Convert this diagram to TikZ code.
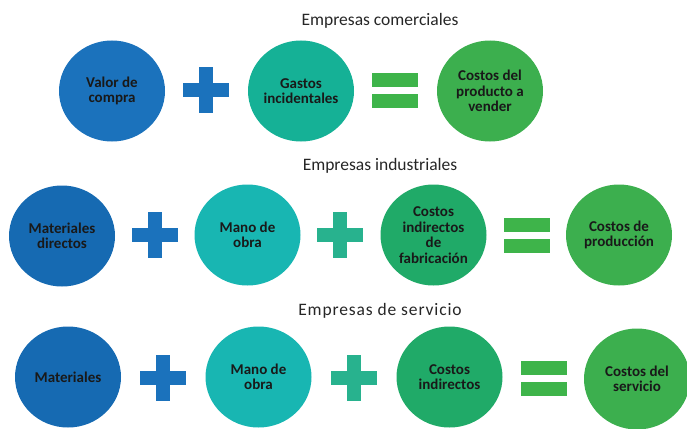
\documentclass[tikz,border=0pt]{standalone}
\usepackage{fontspec}
\setmainfont{Carlito}
\usepackage{xcolor}
\usepackage{tikz}
\usetikzlibrary{shapes.geometric}

\definecolor{cblue}{RGB}{27,114,188}
\definecolor{cdarkblue}{RGB}{22,106,178}
\definecolor{cteal}{RGB}{21,177,150}
\definecolor{ccyan}{RGB}{24,182,178}
\definecolor{cgreen}{RGB}{32,170,104}
\definecolor{clight}{RGB}{60,175,78}
\definecolor{opteal}{RGB}{40,178,142}
\definecolor{opgreen}{RGB}{62,180,74}

\tikzset{
  disc/.style={
    shape = ellipse,
    inner sep = 0pt,
    minimum width = 106pt,
    minimum height = 101pt,
    align = center,
    text = black!90,
    font = \bfseries\fontsize{15}{15.5}\selectfont
  },
  rowtitle/.style={
    text = black!85,
    font = \fontsize{17.5}{19}\selectfont
  }
}
\tikzset{
  plussign/.pic={
    \fill[#1] (-23,-7) rectangle (23,7);
    \fill[#1] (-7,-23) rectangle (7,23);
  },
  equalsign/.pic={
    \fill[#1] (-23,-17.5) rectangle (23,-3.5);
    \fill[#1] (-23,3.5) rectangle (23,17.5);
  }
}

\begin{document}
\begin{tikzpicture}[x=1pt,y=-1pt]
  \useasboundingbox (0,0) rectangle (687,428);

  % comerciales
  \node[rowtitle] (tcom) at (380,21) {Empresas comerciales};
  \node[disc, fill=cblue] (valor) at (112,91) {Valor de\\compra};
  \pic at (206,90) {plussign=cblue};
  \node[disc, fill=cteal] (gastos) at (301,91) {Gastos\\incidentales};
  \pic at (394.5,90) {equalsign=opgreen};
  \node[disc, fill=clight] (prodvender) at (490,91) {Costos del\\producto a\\vender};

  % industriales
  \node[rowtitle] (tind) at (380,166) {Empresas industriales};
  \node[disc, fill=cdarkblue] (matdir) at (62,236) {Materiales\\directos};
  \pic at (155,235) {plussign=cblue};
  \node[disc, fill=ccyan] (manoind) at (247.5,235) {Mano de\\obra};
  \pic at (340,235) {plussign=opteal};
  \node[disc, fill=cgreen] (cifab) at (433.5,235) {Costos\\indirectos\\de\\fabricación};
  \pic at (526.5,235.5) {equalsign=opgreen};
  \node[disc, fill=clight] (prod) at (619,235) {Costos de\\producción};

  % servicio
  \node[rowtitle, font=\fontsize{17.5}{19}\selectfont\addfontfeature{LetterSpace=5}] (tser) at (380,311) {Empresas de servicio};
  \node[disc, fill=cdarkblue] (mat) at (68,377) {Materiales};
  \pic at (163,378) {plussign=cblue};
  \node[disc, fill=ccyan] (manoser) at (258.5,377) {Mano de\\obra};
  \pic at (354,378) {plussign=opteal};
  \node[disc, fill=cgreen] (cind) at (449.5,377) {Costos\\indirectos};
  \pic at (544,378.5) {equalsign=opgreen};
  \node[disc, fill=clight] (serv) at (637,379) {Costos del\\servicio};
\end{tikzpicture}
\end{document}
